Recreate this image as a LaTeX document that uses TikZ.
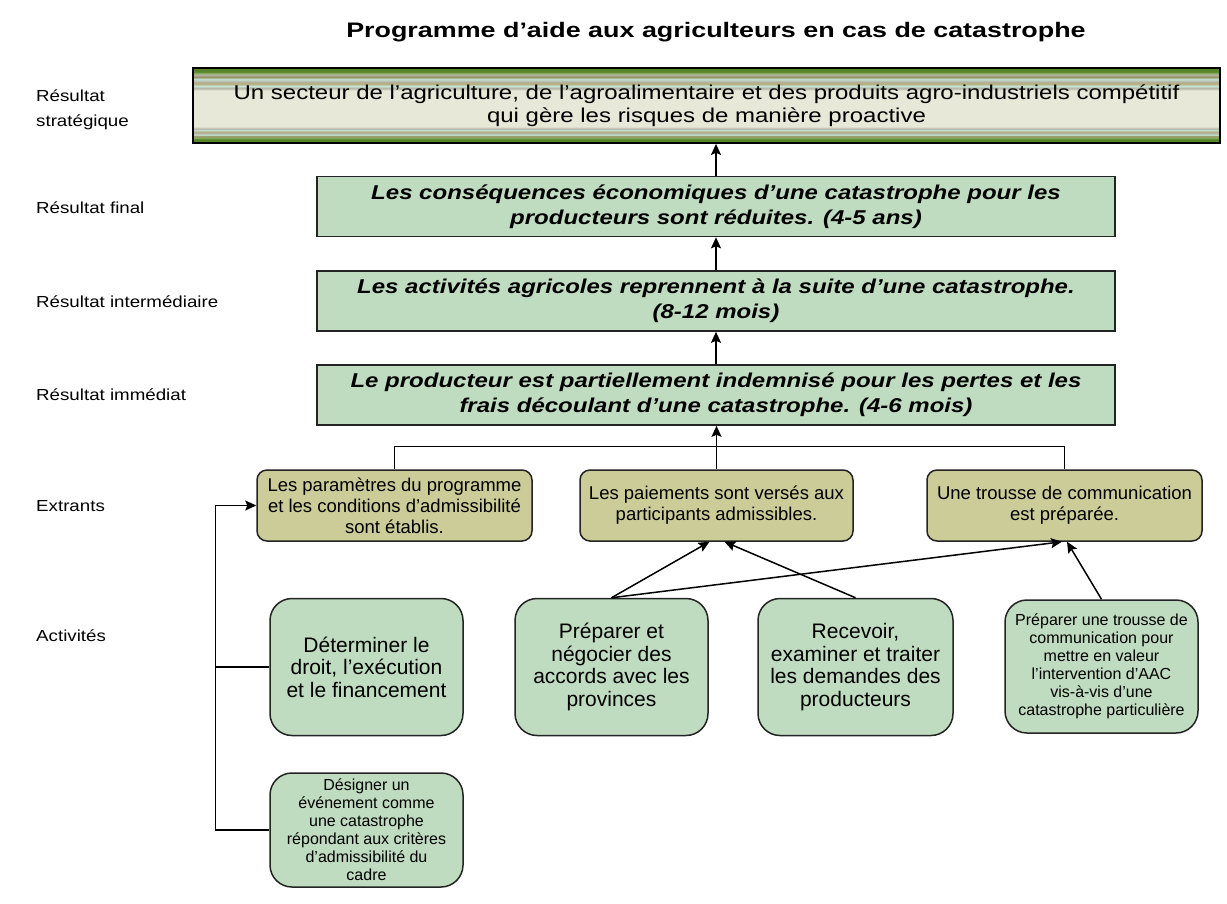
\documentclass[tikz,border=0pt]{standalone}
\usepackage{fontspec}
\setmainfont{Liberation Sans}
\newfontfamily\wideA[FakeStretch=1.2]{Liberation Sans}
\newfontfamily\wideT[FakeStretch=1.28]{Liberation Sans}
\newfontfamily\wideL[FakeStretch=1.17]{Liberation Sans}
\usetikzlibrary{arrows.meta,calc}
\definecolor{resgreen}{RGB}{192,220,192}
\definecolor{actgreen}{RGB}{192,220,192}
\definecolor{outolive}{RGB}{204,204,153}
\definecolor{edgegray}{RGB}{35,35,35}
\definecolor{sgA}{RGB}{85,135,40}
\definecolor{sgB}{RGB}{140,175,95}
\definecolor{sgC}{RGB}{150,145,100}
\definecolor{sgD}{RGB}{180,180,165}
\definecolor{sgE}{RGB}{195,228,212}
\definecolor{sgF}{RGB}{185,172,125}
\definecolor{sgG}{RGB}{232,232,216}
\pgfdeclareverticalshading{stratstripes}{100bp}{%
color(0bp)=(sgA); color(27.5bp)=(sgA); color(28.5bp)=(sgB); color(29.5bp)=(sgC);
color(30.5bp)=(sgE); color(31.5bp)=(sgD); color(32.5bp)=(sgF); color(33.5bp)=(sgE);
color(34.5bp)=(sgD); color(36bp)=(sgG); color(60bp)=(sgG); color(61.5bp)=(sgD);
color(63bp)=(sgE); color(64.5bp)=(sgF); color(66bp)=(sgD); color(67.5bp)=(sgE);
color(69bp)=(sgC); color(70.5bp)=(sgD); color(71.5bp)=(sgB); color(72.5bp)=(sgA); color(100bp)=(sgA)}
\begin{document}
\begin{tikzpicture}[x=1pt,y=-1pt,
  lbl/.style={anchor=west, inner sep=0pt, align=left, font=\wideL\fontsize{16}{25}\selectfont},
  stratbox/.style={draw=black, line width=1.8pt, shade, shading=stratstripes, minimum width=1027pt, minimum height=75pt, inner sep=0pt, align=center, font=\wideA\fontsize{20}{23}\selectfont},
  resbox/.style={draw=edgegray, line width=1.6pt, fill=resgreen, minimum width=798pt, minimum height=60pt, inner sep=0pt, align=center, font=\wideA\bfseries\itshape\fontsize{20}{25}\selectfont},
  outbox/.style={draw=edgegray, line width=1.5pt, fill=outolive, rounded corners=10pt, minimum width=275pt, minimum height=71pt, inner sep=0pt, align=center, font=\fontsize{18.5}{21}\selectfont},
  actbox/.style={draw=edgegray, line width=1.5pt, fill=actgreen, rounded corners=22pt, minimum width=193pt, minimum height=137pt, inner sep=0pt, align=center, font=\fontsize{21}{22.5}\selectfont},
  smallact/.style={actbox, font=\fontsize{16}{18}\selectfont},
  link/.style={line width=1.5pt, draw=black},
  arr/.style={link, -{Stealth[length=11pt,width=10pt,inset=2pt]}}
]
\useasboundingbox (0,0) rectangle (1227,903);

\node[font=\wideT\bfseries\fontsize{21}{25}\selectfont, inner sep=0pt] (title) at (716,32) {Programme d’aide aux agriculteurs en cas de catastrophe};

\node[lbl] (l1) at (36,110) {Résultat\\stratégique};
\node[lbl] (l2) at (36,208) {Résultat final};
\node[lbl] (l3) at (36,302) {Résultat intermédiaire};
\node[lbl] (l4) at (36,395) {Résultat immédiat};
\node[lbl] (l5) at (36,506) {Extrants};
\node[lbl] (l6) at (36,636) {Activités};

\node[stratbox] (strat) at (706.5,105.5) {Un secteur de l’agriculture, de l’agroalimentaire et des produits agro-industriels compétitif\\qui gère les risques de manière proactive};

\node[resbox] (fin) at (716,206.5) {Les conséquences économiques d’une catastrophe pour les\\producteurs sont réduites. (4-5 ans)};
\node[resbox] (int) at (716,301) {Les activités agricoles reprennent à la suite d’une catastrophe.\\(8-12 mois)};
\node[resbox] (imm) at (716,395) {Le producteur est partiellement indemnisé pour les pertes et les\\frais découlant d’une catastrophe. (4-6 mois)};

\node[outbox] (o1) at (394.5,505.5) {Les paramètres du programme\\et les conditions d’admissibilité\\sont établis.};
\node[outbox, minimum width=273pt] (o2) at (716.5,505.5) {Les paiements sont versés aux\\participants admissibles.};
\node[outbox] (o3) at (1064.5,505.5) {Une trousse de communication\\est préparée.};

\node[actbox] (a1) at (366.5,667) {Déterminer le\\droit, l’exécution\\et le financement};
\node[actbox] (a2) at (611.5,667) {Préparer et\\négocier des\\accords avec les\\provinces};
\node[actbox, minimum width=195pt] (a3) at (855.5,667) {Recevoir,\\examiner et traiter\\les demandes des\\producteurs};
\node[smallact, minimum height=133pt] (a4) at (1101.5,666.5) {Préparer une trousse de\\communication pour\\mettre en valeur\\l’intervention d’AAC\\vis-à-vis d’une\\catastrophe particulière};
\node[smallact, minimum height=114pt] (a5) at (366.5,830) {Désigner un\\événement comme\\une catastrophe\\répondant aux critères\\d’admissibilité du\\cadre};

% vertical chain
\draw[arr] (fin.north) -- (fin.north |- strat.south);
\draw[arr] (int.north) -- (fin.south);
\draw[arr] (imm.north) -- (int.south);

% outputs to immediate result
\draw[link] (o1.north) -- ++(0,-23) -| (o3.north);
\draw[arr] (o2.north) -- (o2.north |- imm.south);

% bracket from activities to first output
\path (o1.west) ++(-41,0) coordinate (brk);
\draw[arr] (a5.west) -- (a5.west -| brk) -- (brk) -- (o1.west);
\draw[link] (a1.west) -- (a1.west -| brk);

% activities to outputs
\draw[arr] (a2.north) -- ($(o2.south)+(-7,0)$);
\draw[arr] (a3.north) -- ($(o2.south)+(8,0)$);
\draw[arr] (a2.north) -- ($(o3.south)+(-2.5,0)$);
\draw[arr] (a4.north) -- ($(o3.south)+(2.5,0)$);
\end{tikzpicture}
\end{document}
